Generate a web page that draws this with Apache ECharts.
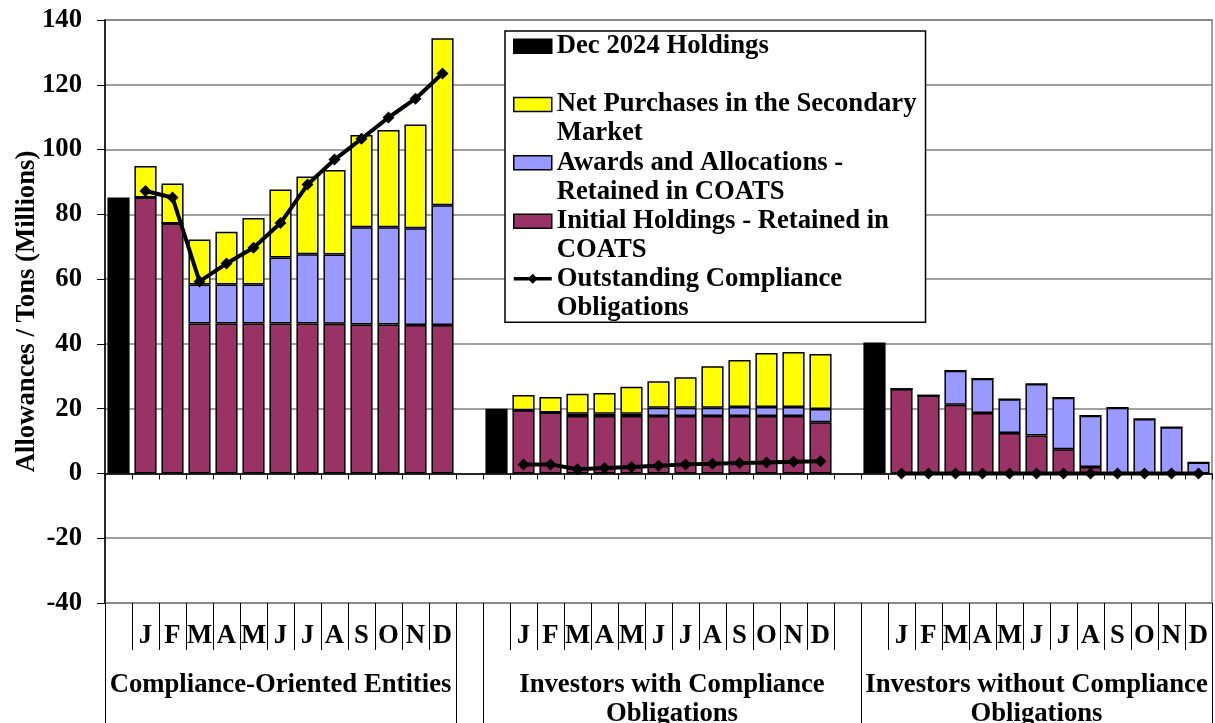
<!DOCTYPE html>
<html>
<head>
<meta charset="utf-8">
<script src="https://cdn.jsdelivr.net/npm/echarts@6/dist/echarts.min.js"></script>
<style>
html, body { margin: 0; padding: 0; background: #fff; }
#chart { width: 1215px; height: 723px; }
</style>
</head>
<body>
<div id="chart"></div>
<script>
// ---------- DATA ----------
const months = ['J', 'F', 'M', 'A', 'M', 'J', 'J', 'A', 'S', 'O', 'N', 'D'];
const groupNames = [
  'Compliance-Oriented Entities',
  'Investors with Compliance\nObligations',
  'Investors without Compliance\nObligations'
];
const yTicks = [-40, -20, 0, 20, 40, 60, 80, 100, 120, 140];

// Dec 2024 holdings, one per group
const dec2024Holdings = [85.2, 20.0, 40.4];

// Monthly stacked components, one row per group (J..D)
const initialHoldings = [
  [85.2, 77.2, 46.3, 46.3, 46.3, 46.3, 46.3, 46.2, 46.0, 46.0, 45.8, 45.8],
  [19.5, 18.8, 17.7, 17.7, 17.7, 17.7, 17.7, 17.7, 17.7, 17.7, 17.7, 15.8],
  [26.1, 24.1, 21.2, 18.7, 12.5, 11.7, 7.5, 2.0, 0, 0, 0, 0]
];
const awardsAllocations = [
  [0, 0, 12.0, 12.0, 12.0, 20.4, 21.4, 21.4, 30.0, 30.0, 29.9, 37.0],
  [0, 0, 0.7, 0.7, 0.7, 2.6, 2.6, 2.6, 2.8, 2.8, 2.8, 4.1],
  [0, 0, 10.5, 10.5, 10.4, 15.9, 15.9, 15.8, 20.3, 16.8, 14.3, 3.4]
];
const netPurchases = [
  [9.7, 12.3, 13.9, 16.3, 20.6, 21.0, 24.0, 26.1, 28.5, 30.0, 32.0, 51.6],
  [4.7, 4.8, 6.2, 6.4, 8.4, 8.2, 9.4, 12.8, 14.5, 16.7, 17.0, 17.0],
  [0, 0, 0, 0, 0, 0, 0, 0, 0, 0, 0, 0]
];
const outstandingObligations = [
  [87.2, 85.2, 59.3, 64.8, 69.7, 77.3, 89.2, 96.9, 103.3, 109.9, 115.7, 123.5],
  [2.8, 2.8, 1.3, 1.7, 2.0, 2.4, 2.8, 3.0, 3.2, 3.4, 3.6, 3.8],
  [0, 0, 0, 0, 0, 0, 0, 0, 0, 0, 0, 0]
];

const seriesNames = [
  'Dec 2024 Holdings',
  'Net Purchases in the Secondary Market',
  'Awards and Allocations - Retained in COATS',
  'Initial Holdings - Retained in COATS',
  'Outstanding Compliance Obligations'
];
const legendText = {
  'Dec 2024 Holdings': 'Dec 2024 Holdings\n ',
  'Net Purchases in the Secondary Market': 'Net Purchases in the Secondary\nMarket',
  'Awards and Allocations - Retained in COATS': 'Awards and Allocations -\nRetained in COATS',
  'Initial Holdings - Retained in COATS': 'Initial Holdings - Retained in\nCOATS',
  'Outstanding Compliance Obligations': 'Outstanding Compliance\nObligations'
};

// ---------- BUILD CATEGORY LAYOUT ----------
// each group: [Dec slot, 12 months, (gap slot except last group)]
const categories = [];
const groupStart = [];
groupNames.forEach((g, gi) => {
  groupStart.push(categories.length);
  categories.push('');
  months.forEach(m => categories.push(m));
  if (gi < groupNames.length - 1) categories.push('');
});
const nSlots = categories.length;

function spreadMonthly(groups) {
  const out = new Array(nSlots).fill(null);
  groups.forEach((g, gi) => {
    g.forEach((v, mi) => { out[groupStart[gi] + 1 + mi] = v; });
  });
  return out;
}
function spreadDec(vals) {
  const out = new Array(nSlots).fill(null);
  vals.forEach((v, gi) => { out[groupStart[gi]] = v; });
  return out;
}

// group label positions / separator lines in slot units
const groupEnd = groupNames.map((g, gi) => groupStart[gi] + 1 + months.length);
const groupLabelPos = groupNames.map((g, gi) =>
  gi === 1 ? (groupStart[gi] + groupStart[gi + 1]) / 2 : (groupStart[gi] + groupEnd[gi]) / 2);
const groupLines = [0, groupEnd[0], groupStart[1], groupStart[2], nSlots];

// ---------- CHART ----------
const FONT = "'Liberation Serif', 'Times New Roman', serif";
const FS = 26.7;
const txt = { fontFamily: FONT, fontWeight: 'bold', fontSize: FS, color: '#000' };

const rectIcon = 'path://M0,0M38,58M0,7.5h38v14h-38z';
const lineIcon = 'path://M0,0M38,58M0,12.8h38v3.4h-38zM19,9.5l5,5l-5,5l-5,-5z';

const chart = echarts.init(document.getElementById('chart'), null, { renderer: 'canvas' });

const barBorder = { borderColor: '#000', borderWidth: 1.5 };

const option = {
  animation: false,
  backgroundColor: '#fff',
  grid: {
    left: 105, right: 3, top: 20, bottom: 120,
    outerBoundsMode: 'none',
    containLabel: false,
    show: true, borderColor: '#808080', borderWidth: 1.5, backgroundColor: 'transparent'
  },
  legend: {
    orient: 'vertical',
    left: 505, top: 31,
    padding: [0, 9, 0, 8],
    itemWidth: 38, itemHeight: 58, itemGap: -1.2,
    backgroundColor: '#fff',
    borderColor: '#000', borderWidth: 1.5,
    selectedMode: false,
    itemStyle: { borderColor: '#000', borderWidth: 1.5 },
    textStyle: Object.assign({ lineHeight: 29 }, txt),
    formatter: name => legendText[name],
    data: [
      { name: seriesNames[0], icon: rectIcon },
      { name: seriesNames[1], icon: rectIcon },
      { name: seriesNames[2], icon: rectIcon },
      { name: seriesNames[3], icon: rectIcon },
      { name: seriesNames[4], icon: lineIcon, itemStyle: { borderWidth: 0 } }
    ]
  },
  xAxis: [
    {
      type: 'category', data: categories, position: 'bottom',
      axisLine: { onZero: true, lineStyle: { color: '#000', width: 1.5 } },
      axisTick: { show: true, interval: 0, length: 6, lineStyle: { color: '#000', width: 1 } },
      axisLabel: { show: false },
      splitLine: { show: false }
    },
    {
      type: 'category', data: categories, position: 'bottom',
      axisLine: { show: false, onZero: false },
      axisTick: {
        show: true, length: 47,
        interval: i => groupStart.indexOf(i) < 0,
        lineStyle: { color: '#000', width: 1 }
      },
      axisLabel: Object.assign({ interval: 0, margin: 19.5 }, txt),
      splitLine: { show: false }
    },
    {
      type: 'value', min: 0, max: nSlots, position: 'bottom',
      axisLine: { show: false, onZero: false },
      splitLine: { show: false },
      axisTick: { show: true, customValues: groupLines, length: 125, lineStyle: { color: '#000', width: 1 } },
      axisLabel: Object.assign({
        customValues: groupLabelPos,
        margin: 67.5, lineHeight: 29, align: 'center',
        formatter: v => {
          const i = groupLabelPos.indexOf(v);
          return i >= 0 ? groupNames[i] : '';
        }
      }, txt)
    }
  ],
  yAxis: {
    type: 'value', min: yTicks[0], max: yTicks[yTicks.length - 1], interval: 20,
    axisLine: { show: true, onZero: false, lineStyle: { color: '#000', width: 1.5 } },
    axisTick: { show: true, length: 8, lineStyle: { color: '#000', width: 1 } },
    splitLine: { show: true, lineStyle: { color: '#808080', width: 1.5 } },
    axisLabel: Object.assign({ margin: 23 }, txt),
    name: 'Allowances / Tons (Millions)',
    nameLocation: 'middle', nameGap: 64,
    nameMoveOverlap: false,
    nameTextStyle: txt
  },
  series: [
    {
      name: seriesNames[0], type: 'bar', stack: 'total', xAxisIndex: 0,
      barCategoryGap: '18%',
      itemStyle: Object.assign({ color: '#000' }, barBorder),
      data: spreadDec(dec2024Holdings)
    },
    {
      name: seriesNames[3], type: 'bar', stack: 'total', xAxisIndex: 0,
      barCategoryGap: '18%',
      itemStyle: Object.assign({ color: '#993366' }, barBorder),
      data: spreadMonthly(initialHoldings)
    },
    {
      name: seriesNames[2], type: 'bar', stack: 'total', xAxisIndex: 0,
      barCategoryGap: '18%',
      itemStyle: Object.assign({ color: '#9999FF' }, barBorder),
      data: spreadMonthly(awardsAllocations)
    },
    {
      name: seriesNames[1], type: 'bar', stack: 'total', xAxisIndex: 0,
      barCategoryGap: '18%',
      itemStyle: Object.assign({ color: '#FFFF00' }, barBorder),
      data: spreadMonthly(netPurchases)
    },
    {
      name: seriesNames[4], type: 'line', xAxisIndex: 0, z: 10,
      connectNulls: false,
      symbol: 'diamond', symbolSize: 12,
      lineStyle: { color: '#000', width: 4 },
      itemStyle: { color: '#000' },
      data: spreadMonthly(outstandingObligations)
    }
  ]
};
chart.setOption(option);
</script>
</body>
</html>
